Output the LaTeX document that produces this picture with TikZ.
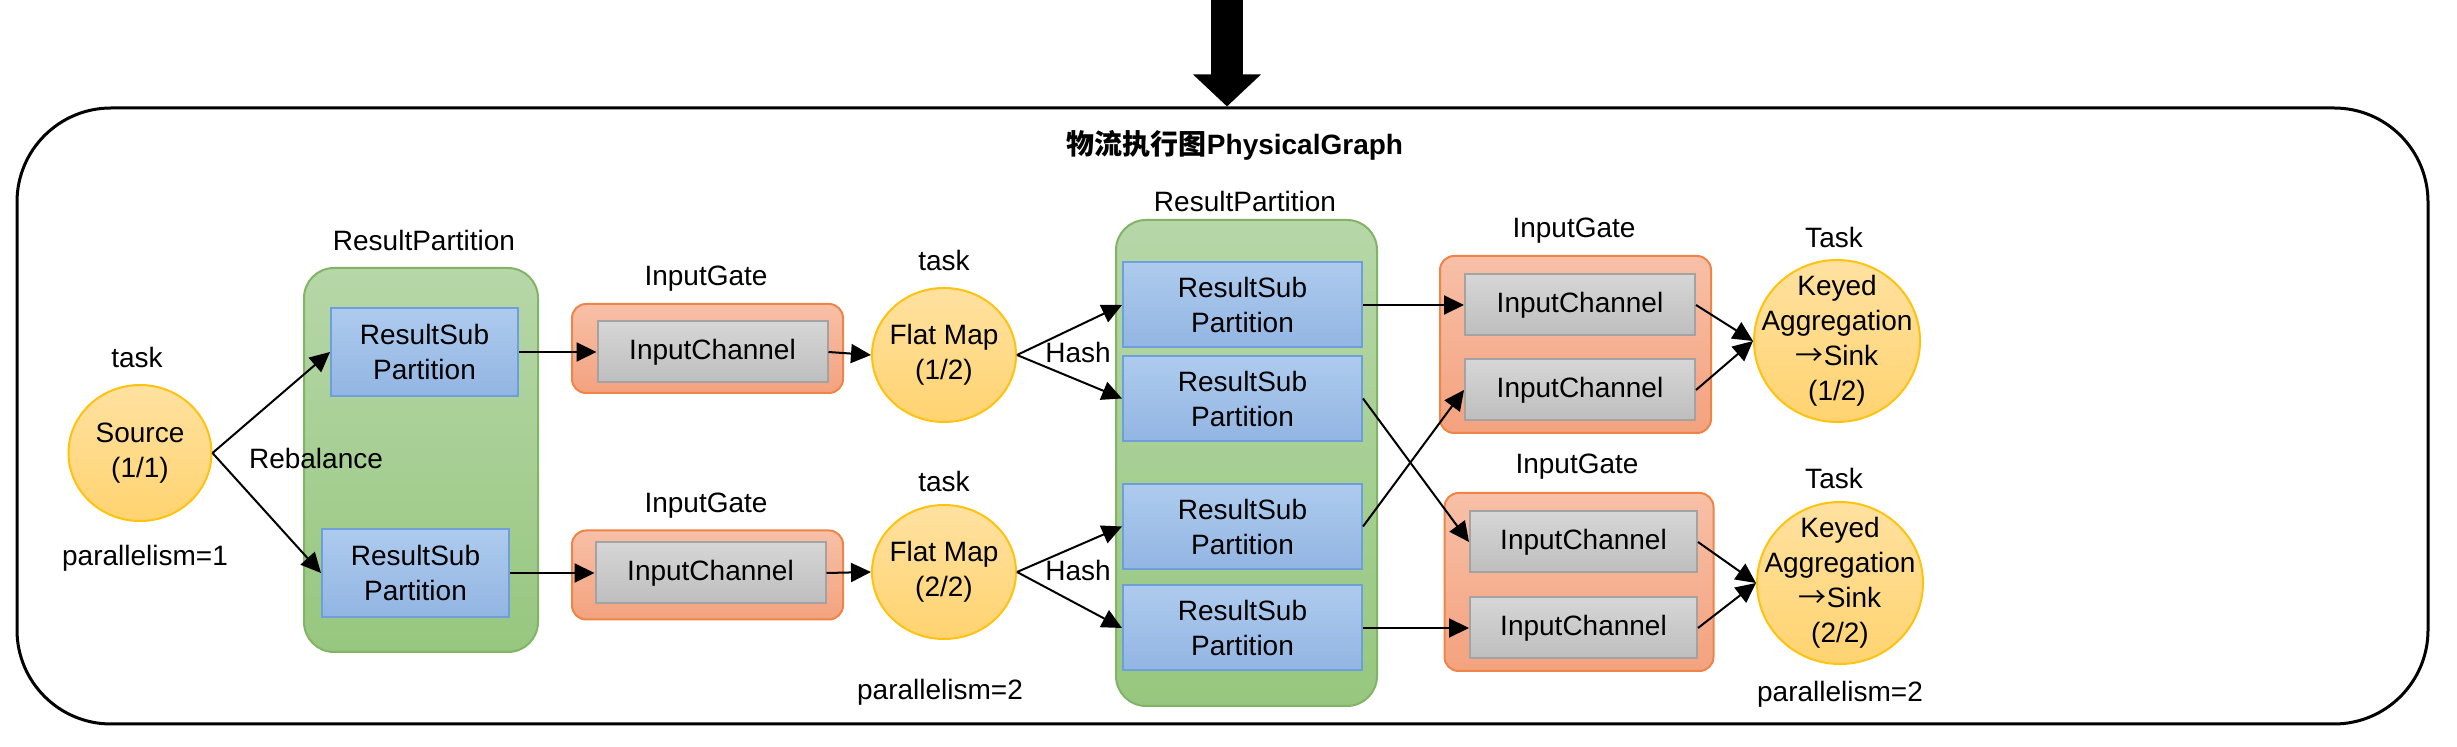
\documentclass[tikz,border=0pt]{standalone}
\usepackage{fontspec}
\setmainfont{Liberation Sans}
\newfontfamily\cjk{Noto Sans CJK SC}
\usetikzlibrary{shapes.geometric,arrows.meta}
\definecolor{greentop}{HTML}{B6D7A8}
\definecolor{greenbot}{HTML}{97C77F}
\definecolor{greenline}{HTML}{82B366}
\definecolor{bluetop}{HTML}{AECBEE}
\definecolor{bluebot}{HTML}{92B5E2}
\definecolor{blueline}{HTML}{6C9FDB}
\definecolor{orangetop}{HTML}{F7C0A7}
\definecolor{orangebot}{HTML}{F4A27E}
\definecolor{orangeline}{HTML}{EE8448}
\definecolor{graytop}{HTML}{D6D6D6}
\definecolor{graybot}{HTML}{BEBEBE}
\definecolor{grayline}{HTML}{A3A3A3}
\definecolor{yellowtop}{HTML}{FFE1A0}
\definecolor{yellowbot}{HTML}{FFD370}
\definecolor{yellowline}{HTML}{FFC20E}
\tikzstyle{task}=[ellipse, draw=yellowline, top color=yellowtop, bottom color=yellowbot, line width=1pt, inner sep=-20pt, align=center]
\tikzstyle{partition}=[rectangle, rounded corners=15pt, draw=greenline, top color=greentop, bottom color=greenbot, line width=1pt]
\tikzstyle{subpart}=[rectangle, draw=blueline, top color=bluetop, bottom color=bluebot, line width=1pt, inner sep=0pt, align=center]
\tikzstyle{gate}=[rectangle, rounded corners=7pt, draw=orangeline, top color=orangetop, bottom color=orangebot, line width=1pt]
\tikzstyle{channel}=[rectangle, draw=grayline, top color=graytop, bottom color=graybot, line width=1pt, inner sep=0pt]
\tikzstyle{lbl}=[inner sep=0pt]

\begin{document}
\begin{tikzpicture}[x=0.5pt, y=-0.5pt, line width=1pt, >={Triangle[length=10pt,width=9.5pt]},
                    font=\fontsize{14}{17.5}\selectfont]
                    \useasboundingbox (0,0) rectangle (2457,747);
                    % frame
                    \node[draw, line width=1.5pt, rounded corners=47pt, minimum width=1205.5pt, minimum height=308pt] (frame) at (1222.5, 416) {};
                    \node[lbl] (title) at (1235, 145) {{\cjk\bfseries 物流执行图}\textbf{PhysicalGraph}};
                    \coordinate (in) at (1227, 0);
                    \draw[line width=16pt, -{Triangle[length=16pt,width=33pt]}] (in) -- (in |- frame.north);
                    % source
                    \node[task, minimum width=71.5pt, minimum height=68pt] (src) at (140, 453) {Source\\(1/1)};
                    \node[lbl] (srct) at (137, 357) {task};
                    \node[lbl] (srcp) at (145, 558) {parallelism=1};
                    % first partition
                    \node[partition, minimum width=117pt, minimum height=192pt] (rp1) at (421, 460) {};
                    \node[lbl] (rp1t) at (424, 240) {ResultPartition};
                    \node[subpart, minimum width=93.5pt, minimum height=44pt] (rsp1) at (424.5, 352) {ResultSub\\Partition};
                    \node[subpart, minimum width=93.5pt, minimum height=44pt] (rsp2) at (415.5, 573) {ResultSub\\Partition};
                    \node[lbl] (reb) at (316, 458) {Rebalance};
                    % input gates
                    \node[gate, minimum width=135.5pt, minimum height=44.5pt] (ig1) at (707.5, 348.5) {};
                    \node[gate, minimum width=135.5pt, minimum height=44.5pt] (ig2) at (707.5, 575) {};
                    \node[lbl] (ig1t) at (706, 279) {InputGate};
                    \node[lbl] (ig2t) at (706, 506) {InputGate};
                    \node[channel, minimum width=115pt, minimum height=30.5pt] (ic1) at (712.5, 352) {InputChannel};
                    \node[channel, minimum width=115pt, minimum height=30.5pt] (ic2) at (710.5, 573) {InputChannel};
                    % flat map
                    \node[task, minimum width=72pt, minimum height=67pt] (fm1) at (944, 355) {Flat Map\\(1/2)};
                    \node[task, minimum width=72pt, minimum height=67pt] (fm2) at (944, 572) {Flat Map\\(2/2)};
                    \node[lbl] (fm1t) at (944, 260) {task};
                    \node[lbl] (fm2t) at (944, 481) {task};
                    \node[lbl] (fmp) at (940, 692) {parallelism=2};
                    \node[lbl] (hash1) at (1078, 352) {Hash};
                    \node[lbl] (hash2) at (1078, 570) {Hash};
                    % second partition
                    \node[partition, minimum width=130.5pt, minimum height=243pt] (rp2) at (1246.5, 463) {};
                    \node[lbl] (rp2t) at (1245, 201) {ResultPartition};
                    \node[subpart, minimum width=119.5pt, minimum height=42.5pt] (rspa) at (1242.5, 305) {ResultSub\\Partition};
                    \node[subpart, minimum width=119.5pt, minimum height=42.5pt] (rspb) at (1242.5, 398.5) {ResultSub\\Partition};
                    \node[subpart, minimum width=119.5pt, minimum height=42.5pt] (rspc) at (1242.5, 526.5) {ResultSub\\Partition};
                    \node[subpart, minimum width=119.5pt, minimum height=42.5pt] (rspd) at (1242.5, 628) {ResultSub\\Partition};
                    % input gates of the keyed tasks
                    \node[gate, minimum width=135.5pt, minimum height=88.5pt] (ig3) at (1575.5, 344.5) {};
                    \node[gate, minimum width=134.5pt, minimum height=89pt] (ig4) at (1579, 582) {};
                    \node[lbl] (ig3t) at (1574, 231) {InputGate};
                    \node[lbl] (ig4t) at (1577, 467) {InputGate};
                    \node[channel, minimum width=115pt, minimum height=30.5pt] (ica) at (1580, 305) {InputChannel};
                    \node[channel, minimum width=115pt, minimum height=30.5pt] (icb) at (1580, 390) {InputChannel};
                    \node[channel, minimum width=113.5pt, minimum height=30.5pt] (icc) at (1583.5, 542) {InputChannel};
                    \node[channel, minimum width=113.5pt, minimum height=30.5pt] (icd) at (1583.5, 628) {InputChannel};
                    % keyed tasks
                    \node[task, minimum width=83pt, minimum height=81pt] (ka1) at (1837, 341) {Keyed\\Aggregation\\{\cjk →}Sink\\(1/2)};
                    \node[task, minimum width=83pt, minimum height=81pt] (ka2) at (1840, 583) {Keyed\\Aggregation\\{\cjk →}Sink\\(2/2)};
                    \node[lbl] (ka1t) at (1834, 237) {Task};
                    \node[lbl] (ka2t) at (1834, 478) {Task};
                    \node[lbl] (kap) at (1840, 694) {parallelism=2};
                    % edges
                    \draw[->] (src.east) -- (rsp1.west);
                    \draw[->] (src.east) -- (rsp2.west);
                    \draw[->] (rsp1.east) -- (ic1.west);
                    \draw[->] (rsp2.east) -- (ic2.west);
                    \draw[->] (ic1.east) -- (fm1.west);
                    \draw[->] (ic2.east) -- (fm2.west);
                    \draw[->] (fm1.east) -- (rspa.west);
                    \draw[->] (fm1.east) -- (rspb.west);
                    \draw[->] (fm2.east) -- (rspc.west);
                    \draw[->] (fm2.east) -- (rspd.west);
                    \draw[->] (rspa.east) -- (ica.west);
                    \draw[->] (rspb.east) -- (icc.west);
                    \draw[->] (rspc.east) -- (icb.west);
                    \draw[->] (rspd.east) -- (icd.west);
                    \draw[->] (ica.east) -- (ka1.west);
                    \draw[->] (icb.east) -- (ka1.west);
                    \draw[->] (icc.east) -- (ka2.west);
                    \draw[->] (icd.east) -- (ka2.west);
                \end{tikzpicture}
\end{document}
